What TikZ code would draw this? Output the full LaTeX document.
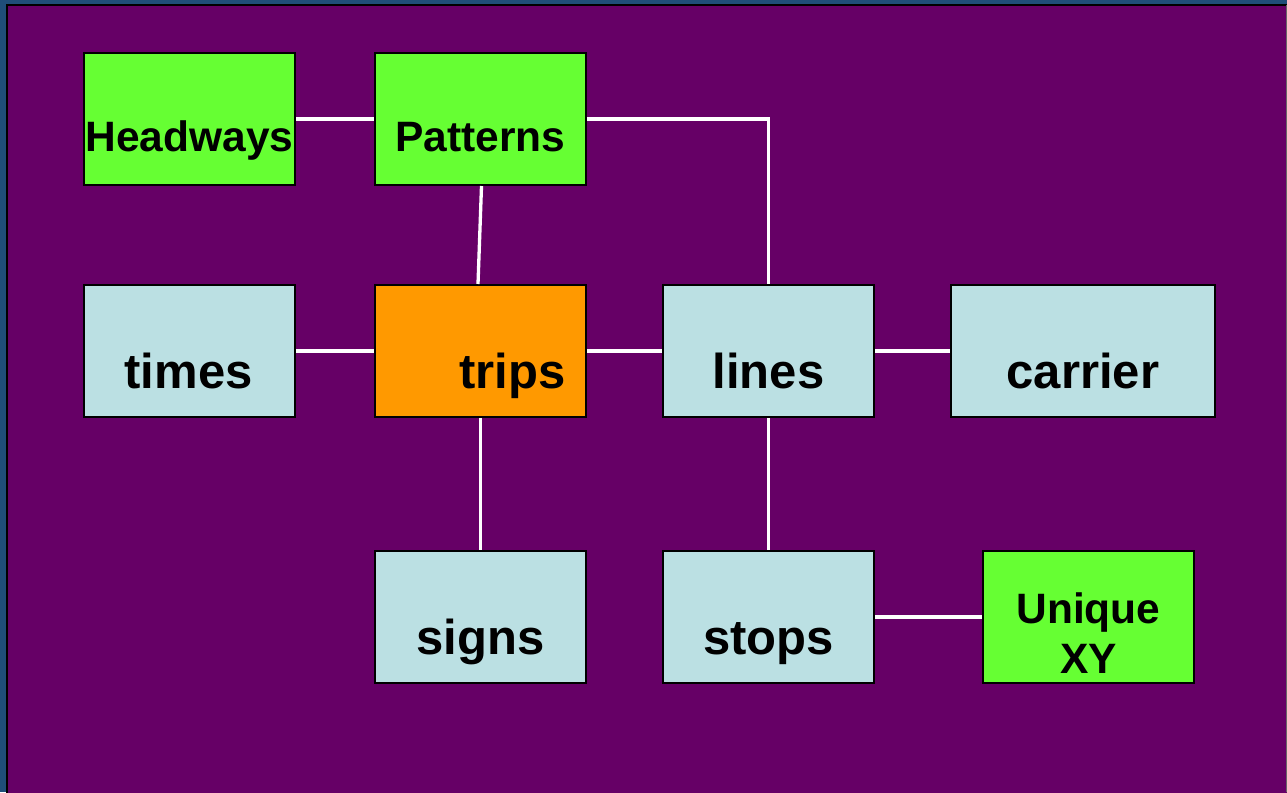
\documentclass[tikz,border=0pt]{standalone}
\usepackage{fontspec}
\setmainfont{Liberation Sans}
\definecolor{bgblue}{HTML}{1F4E79}
\definecolor{bgpurple}{HTML}{660066}
\definecolor{boxgreen}{HTML}{66FF33}
\definecolor{boxblue}{HTML}{BBE0E3}
\definecolor{boxorange}{HTML}{FF9900}
\tikzset{
  box/.style={draw=black, line width=2pt, minimum width=211pt, minimum height=132pt, inner sep=0pt},
  gbox/.style={box, fill=boxgreen},
  bbox/.style={box, fill=boxblue},
  obox/.style={box, fill=boxorange},
  bigtxt/.style={anchor=base, inner sep=0pt, font=\fontsize{49}{50}\selectfont\bfseries},
  smalltxt/.style={anchor=base, inner sep=0pt, font=\fontsize{42.5}{50}\selectfont\bfseries, align=center},
  link/.style={draw=white, line width=3.3pt}
}
\begin{document}
\begin{tikzpicture}[x=1pt,y=-1pt]
\useasboundingbox (0,0) rectangle (1287,792);
\fill[bgblue] (0,0) rectangle (1287,792);
\filldraw[fill=bgpurple, draw=black, line width=2pt] (7,5) rectangle (1300,800);
\draw[black!60, line width=1pt] (1286.5,5) -- (1286.5,792);
% boxes
\node[gbox] (headways) at (189.5,119) {};
\node[gbox] (patterns) at (480.5,119) {};
\node[bbox] (times) at (189.5,351) {};
\node[obox] (trips) at (480.5,351) {};
\node[bbox] (lines) at (768.5,351) {};
\node[bbox, minimum width=264pt] (carrier) at (1083,351) {};
\node[bbox] (signs) at (480.5,617) {};
\node[bbox] (stops) at (768.5,617) {};
\node[gbox] (unique) at (1088.5,617) {};
% connectors
\draw[link] (headways.east) -- (patterns.west);
\draw[link] (patterns.east) -| (lines.north);
\draw[link] ([xshift=1pt]patterns.south) -- ([xshift=-2.5pt]trips.north);
\draw[link] (times.east) -- (trips.west);
\draw[link] (trips.east) -- (lines.west);
\draw[link] (lines.east) -- (carrier.west);
\draw[link] (trips.south) -- (signs.north);
\draw[link] (lines.south) -- (stops.north);
\draw[link] (stops.east) -- (unique.west);
% texts
\node[smalltxt] (tHead) at (189.5,151) {Headways};
\node[smalltxt] (tPat) at (480.5,151) {Patterns};
\node[bigtxt] (tTimes) at (188.5,388) {times};
\node[bigtxt] (tTrips) at (512.5,388) {trips};
\node[bigtxt] (tLines) at (768.5,388) {lines};
\node[bigtxt] (tCarrier) at (1083,388) {carrier};
\node[bigtxt] (tSigns) at (480.5,654) {signs};
\node[bigtxt] (tStops) at (768.5,654) {stops};
\node[smalltxt] (tUniq) at (1088.5,623) {Unique};
\node[smalltxt] (tXY) at (1088.5,673) {XY};
\end{tikzpicture}
\end{document}
